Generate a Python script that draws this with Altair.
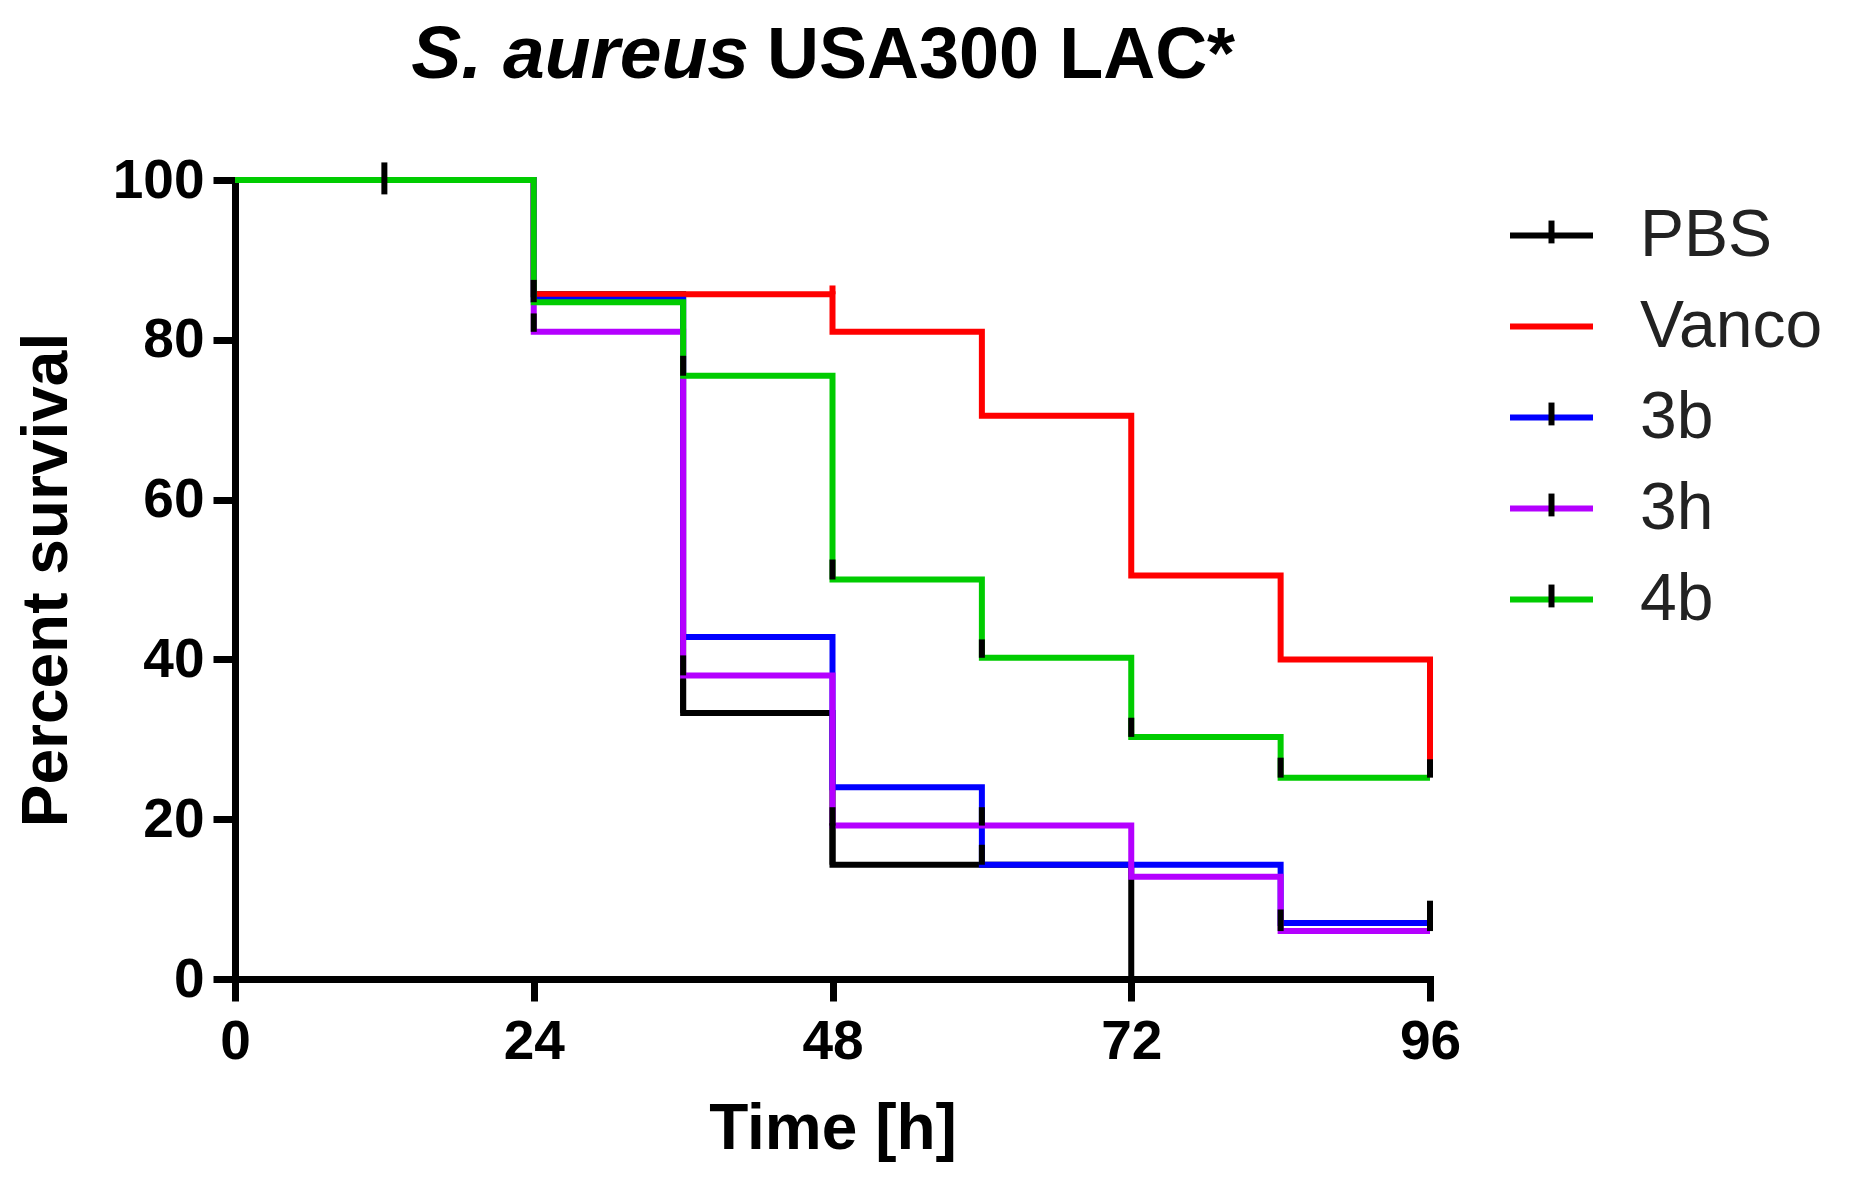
import altair as alt
import pandas as pd

# ---- data ----
series = ["PBS", "Vanco", "3b", "3h", "4b"]
colors = ["#000000", "#ff0000", "#0000ff", "#b400ff", "#00cc00"]

pbs_t = [0, 24, 36, 48, 72]
pbs_v = [100, 85.7, 33.3, 14.3, 0]
vanco_t = [0, 24, 48, 60, 72, 84, 96]
vanco_v = [100, 85.7, 81.0, 70.5, 50.5, 40.0, 26.7]
b3_t = [0, 24, 36, 48, 60, 84, 96]
b3_v = [100, 85.0, 42.8, 24.0, 14.3, 7.0, 7.0]
h3_t = [0, 24, 36, 48, 72, 84, 96]
h3_v = [100, 81.0, 38.0, 19.2, 12.8, 6.0, 6.0]
b4_t = [0, 24, 36, 48, 60, 72, 84, 96]
b4_v = [100, 84.7, 75.5, 50.0, 40.2, 30.3, 25.2, 25.2]

# censor / event tick marks (series, time, from, to)
tick_series = ["PBS", "PBS", "PBS",
               "3h", "3h", "3h", "3h", "3h", "3h",
               "3b", "3b",
               "4b", "4b", "4b", "4b", "4b", "4b", "4b",
               "Vanco"]
tick_t = [12, 36, 48,
          24, 36, 48, 60, 84, 96,
          60, 96,
          24, 36, 48, 60, 72, 84, 96,
          48]
tick_lo = [98.2, 33.3, 14.3,
           81.0, 38.0, 19.2, 19.2, 6.0, 6.0,
           14.3, 7.0,
           84.7, 75.5, 50.0, 40.2, 30.3, 25.2, 25.2,
           85.7]
tick_hi = [102.2, 37.5, 19.5,
           83.3, 40.5, 21.5, 21.5, 8.7, 9.5,
           16.8, 9.8,
           87.5, 78.0, 52.5, 42.5, 32.7, 27.7, 27.5,
           86.8]

x_ticks = [0, 24, 48, 72, 96]
y_ticks = [0, 20, 40, 60, 80, 100]
title_parts = ["S. aureus", "USA300 LAC*"]

# ---- tables ----
curves = {"PBS": (pbs_t, pbs_v), "Vanco": (vanco_t, vanco_v),
          "3b": (b3_t, b3_v), "3h": (h3_t, h3_v), "4b": (b4_t, b4_v)}
rows = []
for s in series:
    ts, vs = curves[s]
    for t, v in zip(ts, vs):
        rows.append({"series": s, "t": t, "v": v})
lines_df = pd.DataFrame(rows)
ticks_df = pd.DataFrame({"series": tick_series, "t": tick_t, "lo": tick_lo, "hi": tick_hi})

tick_keys = [s + " " for s in series]
tick_paths = ["M0,-0.36V0.19", "M0,0", "M0,-0.36V0.19", "M0,-0.36V0.19", "M0,-0.36V0.19"]

W, H = 1195, 799
SYM = 83 * 83
LEG_X, LEG_Y = 1272, 11
ROWPAD = 13
LEG_FS = 66
LAB_OFF = 44
FONT = "Liberation Sans"

x_enc = alt.X("t:Q", scale=alt.Scale(domain=[0, 96], nice=False),
              axis=alt.Axis(values=x_ticks, title="Time [h]", labelPadding=14,
                            titlePadding=28, format="d"))
y_enc = alt.Y("v:Q", scale=alt.Scale(domain=[0, 100], nice=False),
              axis=alt.Axis(values=y_ticks, title="Percent survival", labelPadding=9,
                            titlePadding=33, format="d"))

lines = alt.Chart(lines_df).mark_line(
    interpolate="step-after", strokeWidth=6, strokeJoin="miter", strokeCap="butt"
).encode(
    x=x_enc, y=y_enc,
    color=alt.Color("series:N", scale=alt.Scale(domain=series, range=colors),
                    legend=alt.Legend(orient="none", legendX=LEG_X, legendY=LEG_Y, title=None,
                                      symbolType="M-1,0H1", symbolSize=SYM, symbolStrokeWidth=6,
                                      labelFont=FONT, labelFontSize=LEG_FS, labelColor="#222222",
                                      labelOffset=LAB_OFF, labelLimit=500, rowPadding=ROWPAD,
                                      padding=0)),
)

ticks = alt.Chart(ticks_df).mark_rule(strokeWidth=6, strokeCap="butt").encode(
    x=alt.X("t:Q"), y=alt.Y("lo:Q"), y2="hi:Q",
    color=alt.condition(alt.datum.series == "Vanco", alt.value("#ff0000"), alt.value("#000000")),
)

legend_ticks = alt.Chart(pd.DataFrame({"key": tick_keys})).mark_point(
    opacity=0, color="black", filled=False
).encode(
    x=alt.value(0), y=alt.value(0),
    shape=alt.Shape("key:N", scale=alt.Scale(domain=tick_keys, range=tick_paths),
                    legend=alt.Legend(orient="none", legendX=LEG_X, legendY=LEG_Y, title=None,
                                      symbolSize=SYM, symbolStrokeWidth=6, symbolStrokeColor="black",
                                      symbolFillColor="transparent", symbolOpacity=1,
                                      labelFont=FONT, labelFontSize=LEG_FS, labelOpacity=0,
                                      labelOffset=LAB_OFF, labelLimit=500, rowPadding=ROWPAD,
                                      padding=0)),
)

title_a = alt.Chart(pd.DataFrame({"part": [title_parts[0]]})).mark_text(
    align="right", baseline="alphabetic", font=FONT, fontSize=75, fontWeight="bold",
    fontStyle="italic", color="black"
).encode(text="part:N", x=alt.value(514), y=alt.value(-102))

title_b = alt.Chart(pd.DataFrame({"part": [title_parts[1]]})).mark_text(
    align="left", baseline="alphabetic", font=FONT, fontSize=72, fontWeight="bold",
    color="black"
).encode(text="part:N", x=alt.value(532), y=alt.value(-102))

chart = alt.layer(lines, ticks, legend_ticks, title_a, title_b).properties(
    width=W, height=H,
    padding={"left": 227, "top": 172, "right": 411, "bottom": 192},
    autosize=alt.AutoSizeParams(type="none"),
    background="white",
).configure_view(stroke=None).configure_axis(
    grid=False, domainColor="black", domainWidth=7, domainCap="square",
    tickColor="black", tickWidth=7, tickSize=22,
    labelFont=FONT, labelFontSize=55, labelFontWeight="bold", labelColor="black",
    labelFlush=False, labelOverlap=False,
    titleFont=FONT, titleFontSize=64, titleFontWeight="bold", titleColor="black",
)

chart.save("out.html", embed_options={"renderer": "svg", "actions": False})
